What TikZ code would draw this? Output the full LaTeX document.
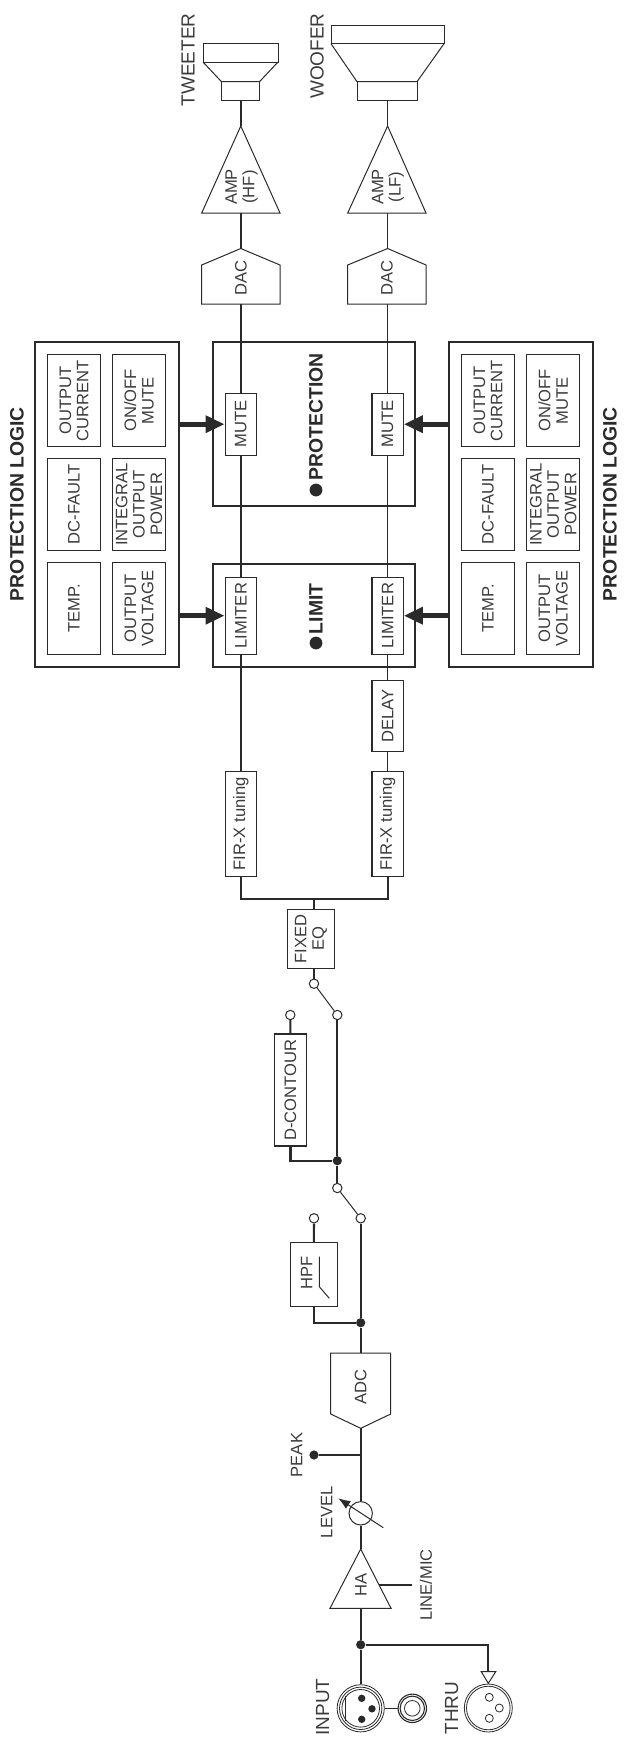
\documentclass[tikz,border=0pt]{standalone}
\usepackage{fontspec}
\setmainfont{Liberation Sans}
\usetikzlibrary{arrows.meta}

\definecolor{ink}{HTML}{2B2A2A}
\definecolor{txtgray}{HTML}{3C3B3B}

\tikzset{
    lbl/.style = {rotate = 90, align = center, inner sep = 0pt, text = txtgray, font = \fontsize{8.3}{8.7}\selectfont},
    biglbl/.style = {lbl, font = \fontsize{9.5}{10}\selectfont},
    boldlbl/.style = {lbl, text = ink, font = \bfseries\fontsize{9.7}{10}\selectfont},
    cell/.style = {lbl, draw = ink, line width = 0.5pt, minimum width = 46.2pt, minimum height = 26.3pt},
    smallbox/.style = {lbl, draw = ink, line width = 0.55pt, minimum height = 15.6pt},
    bigbox/.style = {draw = ink, line width = 0.95pt, inner sep = 0pt},
    outline/.style = {draw = ink, line width = 0.5pt},
    sigline/.style = {draw = ink, line width = 0.85pt},
    stem/.style = {draw = ink, line width = 1.05pt},
    thinline/.style = {draw = ink, line width = 0.5pt},
    bigarrow/.style = {draw = ink, line width = 2.5pt, -{Triangle[length = 9.5pt, width = 8.2pt]}},
    opendot/.style = {circle, draw = ink, fill = white, line width = 0.5pt, minimum size = 4.7pt, inner sep = 0pt},
    soliddot/.style = {circle, fill = ink, minimum size = 4.6pt, inner sep = 0pt},
    ring/.style = {circle, draw = ink, line width = 0.4pt, inner sep = 0pt},
}

\begin{document}
\begin{tikzpicture}[x = 0.5pt, y = -0.5pt]

    \useasboundingbox (0, 0) rectangle (626, 1737);

    % Tweeter
    \node (tweeter) [biglbl, anchor = east] at (188, 13) {TWEETER};
    \node (horn1) [outline, inner sep = 0pt, minimum width = 37.6pt, minimum height = 9.5pt] at (240.8, 52.6) {};
    \draw [outline] (203, 62) -- (221.5, 81.7) -- (259.5, 81.7) -- (278, 62);
    \node (drv1) [outline, inner sep = 0pt, minimum width = 19pt, minimum height = 9.2pt] at (240.8, 90.9) {};

    %% Amp HF
    \coordinate (amp1tip) at (240.8, 126);
    \coordinate (amp1base) at (240.8, 213);
    \draw [outline] (amp1tip) -- (280, 213) -- (201.7, 213) -- cycle;
    \node (amp1) [lbl] at (241.7, 187) {AMP\\(HF)};

    %% DAC HF
    \coordinate (dac1tip) at (240.8, 248.5);
    \coordinate (dac1base) at (240.8, 304);
    \draw [outline] (dac1tip) -- (280, 265) -- (280, 304) -- (201.7, 304) -- (201.7, 265) -- cycle;
    \node (dac1) [lbl] at (240.8, 278) {DAC};

    % Woofer
    \node (woofer) [biglbl, anchor = east] at (317, 13) {WOOFER};
    \node (horn2) [outline, inner sep = 0pt, minimum width = 56.5pt, minimum height = 9.4pt] at (387.6, 34.4) {};
    \draw [outline] (331, 43.7) -- (357, 81.7) -- (417, 81.7) -- (444, 43.7);
    \node (drv2) [outline, inner sep = 0pt, minimum width = 30.2pt, minimum height = 9.2pt] at (387.6, 90.9) {};

    %% Amp LF
    \coordinate (amp2tip) at (387.6, 126);
    \coordinate (amp2base) at (387.6, 213);
    \draw [outline] (amp2tip) -- (426, 213) -- (347.7, 213) -- cycle;
    \node (amp2) [lbl] at (388, 187) {AMP\\(LF)};

    %% DAC LF
    \coordinate (dac2tip) at (387.6, 248.5);
    \coordinate (dac2base) at (387.6, 304);
    \draw [outline] (dac2tip) -- (426, 265) -- (426, 304) -- (347.7, 304) -- (347.7, 265) -- cycle;
    \node (dac2) [lbl] at (387, 278) {DAC};

    % Protection and limit blocks
    \node (protect) [bigbox, minimum width = 100.85pt, minimum height = 82pt] at (314.15, 424) {};
    \node (limit) [bigbox, minimum width = 100.85pt, minimum height = 51.35pt] at (314.15, 615.35) {};
    \node (protectdot) [soliddot, minimum size = 6.4pt] at (316, 490) {};
    \node (protecttxt) [boldlbl, anchor = east] at (316, 353) {PROTECTION};
    \node (limitdot) [soliddot, minimum size = 6.4pt] at (316, 643) {};
    \node (limittxt) [boldlbl, anchor = east] at (316, 583) {LIMIT};

    %% Channel boxes
    \node (mute1) [smallbox, minimum width = 30.85pt] at (240.8, 424.2) {MUTE};
    \node (mute2) [smallbox, minimum width = 30.85pt] at (387.6, 424.2) {MUTE};
    \node (lim1) [smallbox, minimum width = 38.65pt] at (240.8, 615.7) {LIMITER};
    \node (lim2) [smallbox, minimum width = 38.65pt] at (387.6, 615.7) {LIMITER};
    \node (delay) [smallbox, minimum width = 35.35pt] at (387.6, 715.7) {DELAY};
    \node (fir1) [smallbox, minimum width = 52.15pt] at (240.8, 823.9) {FIR-X tuning};
    \node (fir2) [smallbox, minimum width = 52.15pt] at (387.6, 823.9) {FIR-X tuning};

    % Protection logic, left
    \node (logic1txt) [boldlbl] at (17, 504) {PROTECTION LOGIC};
    \node (logic1) [bigbox, minimum width = 72pt, minimum height = 162.35pt] at (107, 504.35) {};
    \node (a1) [cell] at (74, 400.5) {OUTPUT\\CURRENT};
    \node (a2) [cell] at (74, 504.3) {DC-FAULT};
    \node (a3) [cell] at (74, 608.2) {TEMP.};
    \node (a4) [cell] at (139, 400.5) {ON/OFF\\MUTE};
    \node (a5) [cell] at (139, 504.3) {INTEGRAL\\OUTPUT\\POWER};
    \node (a6) [cell] at (139, 608.2) {OUTPUT\\VOLTAGE};

    % Protection logic, right
    \node (logic2txt) [boldlbl] at (610, 504) {PROTECTION LOGIC};
    \node (logic2) [bigbox, minimum width = 72pt, minimum height = 162.35pt] at (521.3, 504.35) {};
    \node (b1) [cell] at (488, 400.5) {OUTPUT\\CURRENT};
    \node (b2) [cell] at (488, 504.3) {DC-FAULT};
    \node (b3) [cell] at (488, 608.2) {TEMP.};
    \node (b4) [cell] at (553.2, 400.5) {ON/OFF\\MUTE};
    \node (b5) [cell] at (553.2, 504.3) {INTEGRAL\\OUTPUT\\POWER};
    \node (b6) [cell] at (553.2, 608.2) {OUTPUT\\VOLTAGE};

    %% Logic arrows
    \draw [bigarrow] (logic1.east |- mute1) -- (mute1);
    \draw [bigarrow] (logic1.east |- lim1) -- (lim1);
    \draw [bigarrow] (logic2.west |- mute2) -- (mute2);
    \draw [bigarrow] (logic2.west |- lim2) -- (lim2);

    % Signal lines to the speakers
    \draw [sigline] (drv1) -- (amp1tip);
    \draw [sigline] (amp1base) -- (dac1tip);
    \draw [sigline] (dac1base) -- (mute1);
    \draw [sigline] (mute1) -- (lim1);
    \draw [sigline] (lim1) -- (fir1);
    \draw [sigline] (drv2) -- (amp2tip);
    \draw [sigline] (amp2base) -- (dac2tip);
    \draw [sigline] (dac2base) -- (mute2);
    \draw [sigline] (mute2) -- (lim2);
    \draw [sigline] (lim2) -- (delay);
    \draw [sigline] (delay) -- (fir2);

    % Fixed EQ
    \coordinate (fork) at (314, 899);
    \draw [stem] (fir1) |- (fork) -| (fir2);
    \node (eq) [lbl, draw = ink, line width = 0.55pt, minimum width = 29.65pt, minimum height = 23.7pt] at (311, 938.7) {FIXED\\EQ};
    \draw [stem] (fork) -- (fork |- eq.east);

    % Switch 2
    \node (sw2a) [opendot] at (314, 983.7) {};
    \node (sw2b) [opendot] at (337.3, 1015) {};
    \node (sw2c) [opendot] at (290.3, 1015) {};
    \draw [stem] (sw2a |- eq.west) -- (sw2a);
    \draw [thinline] (sw2a) -- (sw2b);

    %% D-contour
    \node (contour) [smallbox, minimum width = 56pt, minimum height = 15.8pt] at (290.5, 1090) {D-CONTOUR};
    \node (joint2) [soliddot] at (337.3, 1160.7) {};
    \draw [stem] (sw2c) -- (contour);
    \draw [stem] (contour) |- (joint2);
    \draw [stem] (sw2b) -- (joint2);

    % Switch 1
    \node (sw1a) [opendot] at (337.3, 1188) {};
    \node (sw1b) [opendot] at (360.7, 1218.3) {};
    \node (sw1c) [opendot] at (314, 1218.3) {};
    \draw [stem] (joint2) -- (sw1a);
    \draw [thinline] (sw1a) -- (sw1b);

    %% HPF
    \node (hpf) [draw = ink, line width = 0.55pt, inner sep = 0pt, minimum width = 23.65pt, minimum height = 32.2pt] at (313.7, 1274.5) {};
    \node (hpftxt) [lbl] at (306.7, 1272.7) {HPF};
    \draw [thinline] (319.3, 1256.7) -- (319.3, 1286.7) -- (329.3, 1298.3);
    \node (joint1) [soliddot] at (360.7, 1322.7) {};
    \draw [stem] (sw1c) -- (hpf);
    \draw [stem] (hpf) |- (joint1);
    \draw [stem] (sw1b) -- (joint1);

    % ADC
    \coordinate (adctop) at (360.7, 1353);
    \coordinate (adctip) at (360.7, 1428.3);
    \draw [outline] (330.7, 1353) -- (390.7, 1353) -- (390.7, 1414) -- (adctip) -- (330.7, 1414) -- cycle;
    \node (adc) [lbl] at (360.7, 1387) {ADC};
    \draw [stem] (joint1) -- (adctop);

    % Peak and level
    \coordinate (peakjoint) at (360.7, 1455);
    \node (peakdot) [soliddot] at (314, 1455) {};
    \node (peak) [lbl] at (296.7, 1455) {PEAK};
    \draw [sigline] (peakdot) -- (peakjoint);

    \node (pot) [circle, draw = ink, line width = 0.5pt, inner sep = 0pt, minimum size = 11.7pt] at (360.7, 1513.3) {};
    \node (level) [lbl] at (326.7, 1512.3) {LEVEL};
    \coordinate (potend) at (383.3, 1527.7);
    \coordinate (pottip) at (338.3, 1498.3);
    \draw [thinline, -{Latex[length = 6pt, width = 4.6pt]}] (potend) -- (pottip);
    \draw [sigline] (adctip) -- (pot);

    % Head amp
    \coordinate (hatip) at (360.7, 1549);
    \coordinate (habase) at (360.7, 1608.3);
    \draw [outline] (hatip) -- (391, 1608.3) -- (330, 1608.3) -- cycle;
    \node (ha) [lbl] at (361, 1585) {HA};
    \draw [sigline] (pot) -- (hatip);

    %% Line/mic
    \coordinate (hajoint) at (379.3, 1585);
    \coordinate (hamic) at (412.3, 1585);
    \draw [sigline] (hajoint) -- (hamic);
    \node (linemic) [lbl] at (426, 1585) {LINE/MIC};

    % Input
    \node (inputjoint) [soliddot] at (360.7, 1644.7) {};
    \node (xlrin) [ring, minimum size = 23.6pt] at (360.7, 1708.3) {};
    \node (xlrmid) [ring, minimum size = 21.2pt] at (xlrin) {};
    \node (xlrinner) [ring, minimum size = 18.8pt] at (xlrin) {};
    \node (pinA) [soliddot, minimum size = 3.7pt] at (361.7, 1698.3) {};
    \node (pinB) [soliddot, minimum size = 3.7pt] at (372, 1708.8) {};
    \node (pinC) [soliddot, minimum size = 3.7pt] at (361.7, 1719.3) {};
    \draw [thinline] (345.7, 1696) -- (345.7, 1720.6);
    \node (input) [biglbl] at (322.7, 1707) {INPUT};
    \draw [sigline] (habase) -- (inputjoint);
    \draw [sigline] (inputjoint) -- (xlrin);

    %% Jack
    \node (jack) [ring, line width = 0.55pt, minimum size = 14.2pt] at (412.3, 1708.3) {};
    \node (jackmid) [ring, line width = 0.55pt, minimum size = 12.2pt] at (jack) {};
    \node (jackinner) [ring, minimum size = 7.8pt] at (jack) {};
    \draw [thinline] (xlrin) -- (jack);

    % Thru
    \coordinate (thrutop) at (488.3, 1671.7);
    \draw [outline] (481.3, 1671.7) -- (495.7, 1671.7) -- (488.3, 1683.3) -- cycle;
    \draw [sigline] (inputjoint) -| (thrutop);
    \node (xlrout) [ring, minimum size = 24pt] at (488.3, 1708) {};
    \node (xlroutinner) [ring, minimum size = 21.8pt] at (xlrout) {};
    \node (pinD) [ring, minimum size = 4pt] at (489.3, 1697.3) {};
    \node (pinE) [ring, minimum size = 4pt] at (499.3, 1708) {};
    \node (pinF) [ring, minimum size = 4pt] at (489.3, 1718.3) {};
    \node (thru) [biglbl] at (451.7, 1708) {THRU};

\end{tikzpicture}
\end{document}
